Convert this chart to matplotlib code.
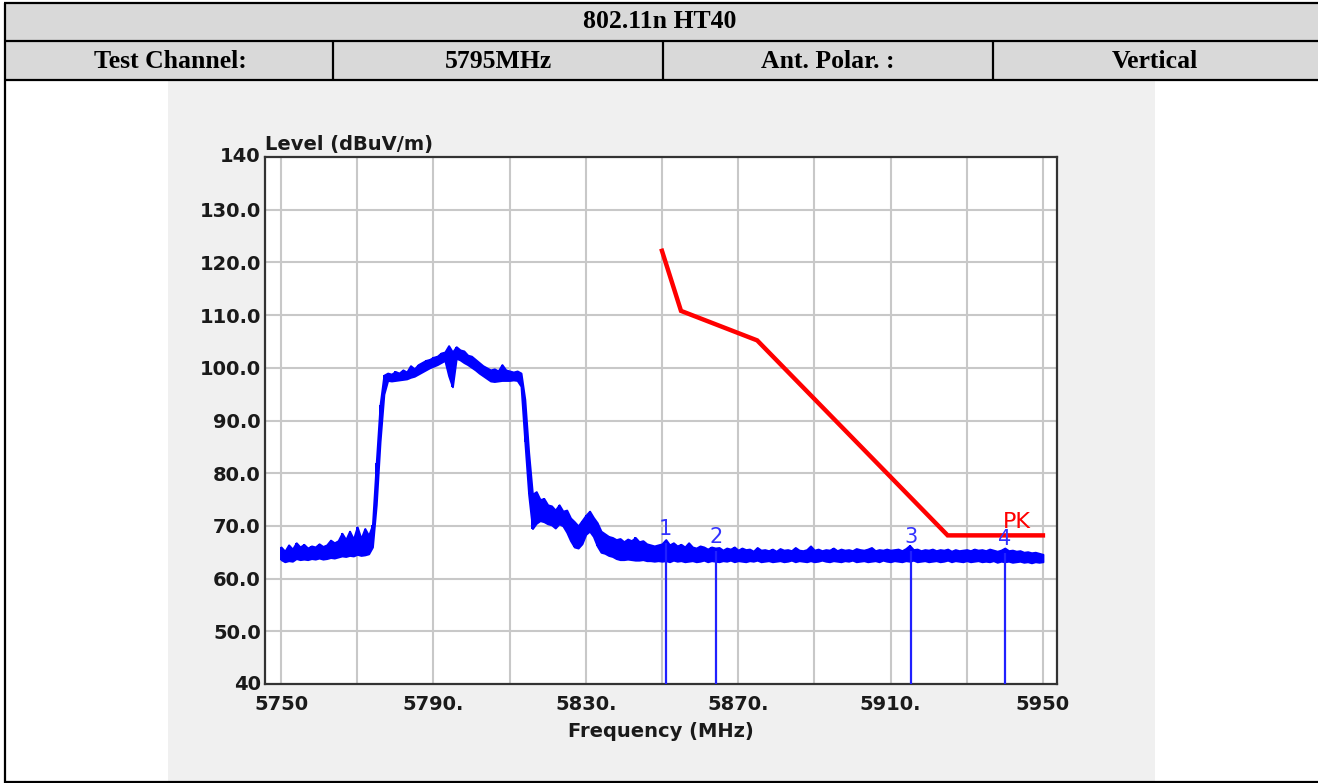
import matplotlib
matplotlib.use("Agg")
import matplotlib.pyplot as plt
import numpy as np
from matplotlib.patches import Rectangle
from matplotlib.lines import Line2D

# ---------------- data ----------------
header_title = "802.11n HT40"
header_cells = ["Test Channel:", "5795MHz", "Ant. Polar. :", "Vertical"]

trace_start_mhz = 5750
# upper envelope of the measured trace (dBuV/m), one value per MHz
trace_peak = [
    66.0, 65.2, 66.4, 65.6, 66.8, 66.0, 66.5, 65.8, 66.2, 66.0,
    66.6, 66.1, 66.4, 67.3, 66.8, 67.2, 68.6, 67.4, 69.0, 67.5,
    69.8, 67.6, 69.5, 68.2, 70.2, 82.0, 93.0, 98.6, 99.0, 98.8,
    99.3, 99.0, 99.6, 99.2, 100.4, 99.8, 100.6, 101.0, 101.4, 101.6,
    102.0, 102.2, 102.8, 103.0, 104.2, 103.0, 104.0, 103.4, 103.2, 102.4,
    102.2, 101.6, 101.0, 100.4, 100.0, 99.6, 99.8, 99.4, 100.6, 99.6,
    99.4, 99.2, 99.4, 99.0, 94.0, 84.0, 76.0, 76.5, 75.0, 75.2,
    74.0, 73.8, 73.0, 74.0, 72.8, 73.0, 71.5, 70.8, 70.0, 71.0,
    72.0, 72.8, 71.6, 70.6, 69.0, 68.5, 68.0, 67.8, 67.4, 67.6,
    67.0, 67.5, 67.2, 67.8, 67.0, 67.2, 66.6, 66.4, 66.2, 66.4,
    66.6, 67.4, 66.4, 66.8, 66.2, 66.5, 66.0, 66.8, 66.0, 65.8,
    66.2, 66.0, 65.6, 66.0, 65.8, 65.9, 65.4, 65.8, 65.6, 66.0,
    65.4, 65.8, 65.5, 65.6, 65.2, 65.9, 65.4, 65.5, 65.3, 65.6,
    65.2, 65.7, 65.4, 65.5, 65.3, 65.9, 65.4, 65.3, 65.5, 66.2,
    65.4, 65.6, 65.3, 65.5, 65.4, 65.8, 65.3, 65.6, 65.4, 65.5,
    65.3, 65.7, 65.5, 65.4, 65.6, 65.9, 65.3, 65.5, 65.4, 65.6,
    65.4, 65.5, 65.6, 65.3, 65.7, 66.3, 65.5, 65.6, 65.3, 65.5,
    65.4, 65.6, 65.3, 65.5, 65.4, 65.6, 65.2, 65.5, 65.3, 65.4,
    65.5, 65.3, 65.6, 65.4, 65.5, 65.3, 65.6, 65.4, 65.2, 65.4,
    65.8, 65.3, 65.4, 65.2, 65.3, 65.0, 65.1, 64.9, 65.0, 64.8,
    64.6,
]
# lower envelope of the measured trace (dBuV/m), one value per MHz
trace_floor = [
    63.6, 63.2, 63.4, 63.3, 63.8, 63.6, 63.7, 63.6, 63.8, 63.7,
    63.9, 63.7, 63.8, 64.0, 63.9, 64.1, 64.3, 64.2, 64.4, 64.3,
    64.6, 64.4, 64.5, 64.7, 66.0, 74.0, 86.0, 95.0, 97.6, 97.5,
    97.6, 97.7, 97.8, 97.9, 98.2, 98.4, 98.8, 99.2, 99.6, 100.0,
    100.3, 100.6, 101.0, 101.4, 98.5, 96.4, 101.8, 101.5, 101.0, 100.6,
    100.1, 99.6, 99.0, 98.5, 98.0, 97.5, 97.4, 97.5, 97.6, 97.6,
    97.6, 97.7, 97.6, 96.5, 86.0, 76.0, 69.5, 70.5, 71.0, 70.8,
    70.4, 70.2, 69.6, 70.4, 70.0, 68.8, 67.2, 66.0, 65.8, 66.6,
    68.4, 69.0, 68.0, 66.2, 65.0, 64.8, 64.4, 64.2, 63.8, 63.6,
    63.6, 63.7, 63.6, 63.5, 63.5, 63.6, 63.4, 63.4, 63.3, 63.4,
    63.3, 63.4, 63.2, 63.5, 63.3, 63.4, 63.2, 63.3, 63.4, 63.2,
    63.3, 63.5, 63.2, 63.4, 63.3, 63.2, 63.4, 63.3, 63.5, 63.2,
    63.4, 63.3, 63.2, 63.4, 63.3, 63.5, 63.2, 63.3, 63.4, 63.2,
    63.3, 63.4, 63.2, 63.3, 63.5, 63.2, 63.4, 63.3, 63.2, 63.4,
    63.2, 63.3, 63.5, 63.3, 63.2, 63.4, 63.3, 63.2, 63.4, 63.3,
    63.5, 63.2, 63.3, 63.4, 63.2, 63.3, 63.4, 63.2, 63.5, 63.3,
    63.2, 63.4, 63.3, 63.2, 63.4, 63.3, 63.5, 63.2, 63.3, 63.4,
    63.2, 63.3, 63.4, 63.2, 63.3, 63.5, 63.2, 63.4, 63.3, 63.2,
    63.4, 63.2, 63.3, 63.4, 63.2, 63.3, 63.2, 63.4, 63.1, 63.3,
    63.2, 63.3, 63.1, 63.2, 63.3, 63.1, 63.2, 63.0, 63.2, 63.1,
    63.2,
]
trace_freq = trace_start_mhz + np.arange(len(trace_peak))

limit_freq = [5850, 5855, 5875, 5925, 5950]
limit_level = [122.2, 110.8, 105.2, 68.2, 68.2]

marker_freq = [5851.0, 5864.2, 5915.3, 5940.0]
marker_level = [66.7, 65.2, 65.2, 64.8]
marker_label = ["1", "2", "3", "4"]

x_ticks = [5750, 5790, 5830, 5870, 5910, 5950]
x_ticklabels = ["5750", "5790.", "5830.", "5870.", "5910.", "5950"]
y_ticks = [40, 50, 60, 70, 80, 90, 100, 110, 120, 130, 140]
y_ticklabels = ["40", "50.0", "60.0", "70.0", "80.0", "90.0", "100.0",
                "110.0", "120.0", "130.0", "140"]
x_grid = [5750, 5770, 5790, 5810, 5830, 5850, 5870, 5890, 5910, 5930, 5950]

# ---------------- figure ----------------
W, H = 1318, 783
fig = plt.figure(figsize=(W / 100, H / 100), dpi=100)

bg = fig.add_axes([0, 0, 1, 1], zorder=0)
bg.set_xlim(0, W)
bg.set_ylim(H, 0)
bg.axis("off")

bg.add_patch(Rectangle((4, 3), W - 4, 78, facecolor="#d9d9d9", edgecolor="none"))
bg.add_patch(Rectangle((168, 81), 1155 - 168, H - 81, facecolor="#f0f0f0", edgecolor="none"))
lk = dict(color="black", linewidth=1.6, solid_capstyle="butt")
for yy in (3, 41, 80, 781.5):
    bg.add_line(Line2D([4, W], [yy, yy], **lk))
bg.add_line(Line2D([5, 5], [3, H], **lk))
for xx in (333, 663, 993):
    bg.add_line(Line2D([xx, xx], [41, 80], **lk))

serif = ["Liberation Serif", "DejaVu Serif"]
bg.text(660, 21, header_title, ha="center", va="center", fontsize=18.5,
        fontweight="bold", family=serif)
for cx, t in zip((170, 498, 828, 1155), header_cells):
    bg.text(cx, 61, t, ha="center", va="center", fontsize=18.5,
            fontweight="bold", family=serif)

# ---------------- plot ----------------
ax = fig.add_axes([265 / W, 1 - 684 / H, (1057 - 265) / W, (684 - 157) / H], zorder=2)
ax.set_facecolor("white")
ax.set_xlim(5745.8, 5953.7)
ax.set_ylim(40, 140)

for g in x_grid:
    ax.axvline(g, color="#c8c8c8", linewidth=1.5, zorder=1)
for g in y_ticks[1:-1]:
    ax.axhline(g, color="#c8c8c8", linewidth=1.5, zorder=1)

ax.fill_between(trace_freq, trace_floor, trace_peak, facecolor="#0000ff",
                edgecolor="#0000ff", linewidth=1.4, zorder=3)
ax.vlines(trace_freq, trace_floor, trace_peak, color="#0000ff",
          linewidth=1.4, zorder=3)
ax.plot(limit_freq, limit_level, color="#ff0000", linewidth=3.2, zorder=4,
        solid_joinstyle="miter")

for f, lv, lb in zip(marker_freq, marker_level, marker_label):
    ax.vlines(f, 40, lv, color="#2020ff", linewidth=1.6, zorder=5)
    ax.text(f, lv + 0.8, lb, color="#3333ff", fontsize=15, ha="center",
            va="bottom", zorder=6)

ax.text(5939.6, 68.9, "PK", color="#ff0000", fontsize=16, ha="left",
        va="bottom", zorder=6)

ax.set_xticks(x_ticks)
ax.set_xticklabels(x_ticklabels)
ax.set_yticks(y_ticks)
ax.set_yticklabels(y_ticklabels)
ax.tick_params(axis="both", length=0, labelsize=14, colors="#1a1a1a")
ax.tick_params(axis="x", pad=8)
ax.tick_params(axis="y", pad=3)
for lab in ax.get_xticklabels() + ax.get_yticklabels():
    lab.set_fontweight("bold")
ax.get_yticklabels()[0].set_va("center")
ax.get_yticklabels()[-1].set_va("center")

for s in ax.spines.values():
    s.set_color("#333333")
    s.set_linewidth(1.6)

ax.set_xlabel("Frequency (MHz)", fontsize=14, fontweight="bold",
              color="#1a1a1a", labelpad=6)
ax.text(0.0, 1.005, "Level (dBuV/m)", transform=ax.transAxes, fontsize=14,
        fontweight="bold", color="#1a1a1a", ha="left", va="bottom")

fig.savefig("out.png", dpi=100)
